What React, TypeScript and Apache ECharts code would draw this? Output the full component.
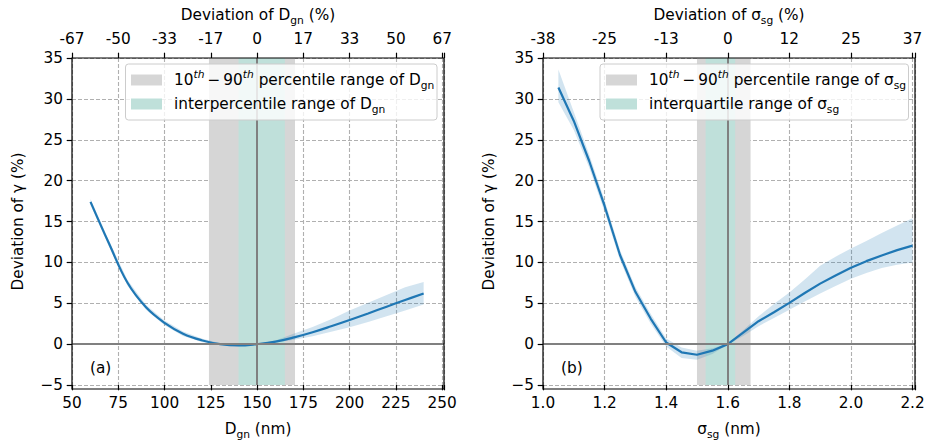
import React, { useEffect, useRef } from 'react';
import * as echarts from 'echarts';

// ---------- data ----------
const dgn = [60, 70, 80, 90, 100, 110, 120, 130, 140, 150, 160, 170, 180, 190, 200, 210, 220, 230, 240];
const dgnMean = [17.4, 12.3, 7.5, 4.5, 2.6, 1.28, 0.48, 0.0, -0.17, 0, 0.3, 0.82, 1.45, 2.18, 2.95, 3.75, 4.58, 5.4, 6.2];
const dgnUpper = [17.75, 12.65, 7.85, 4.8, 2.9, 1.55, 0.68, 0.12, -0.08, 0.02, 0.45, 1.3, 2.1, 3.05, 4.1, 5.05, 6.0, 6.95, 7.6];
const dgnLower = [17.05, 11.95, 7.15, 4.2, 2.3, 1.0, 0.26, -0.12, -0.25, -0.02, 0.2, 0.55, 0.95, 1.5, 2.05, 2.7, 3.4, 4.1, 4.85];

const sigma = [1.05, 1.1, 1.15, 1.2, 1.25, 1.3, 1.35, 1.4, 1.45, 1.5, 1.55, 1.6, 1.65, 1.7, 1.75, 1.8, 1.85, 1.9, 1.95, 2.0, 2.05, 2.1, 2.15, 2.2];
const sigmaMean = [31.4, 27.3, 22.4, 16.9, 10.9, 6.4, 3.1, 0.2, -1.0, -1.3, -0.8, 0, 1.4, 2.8, 3.9, 5.05, 6.25, 7.4, 8.4, 9.35, 10.15, 10.85, 11.5, 12.05];
const sigmaUpper = [33.6, 28.4, 23.2, 17.6, 11.5, 7.0, 3.7, 0.7, -0.4, -0.8, -0.5, 0.05, 1.7, 3.4, 4.9, 6.3, 7.9, 9.6, 10.7, 11.7, 12.6, 13.6, 14.5, 15.4];
const sigmaLower = [29.6, 26.2, 21.6, 16.2, 10.3, 5.8, 2.5, -0.3, -1.7, -1.9, -1.2, -0.05, 1.0, 2.2, 3.2, 4.2, 5.2, 6.2, 7.1, 8.0, 8.7, 9.3, 9.7, 10.0];

const dgnTicks = [50, 75, 100, 125, 150, 175, 200, 225, 250];
const dgnBottomLabels = ['50', '75', '100', '125', '150', '175', '200', '225', '250'];
const dgnTopLabels = ['-67', '-50', '-33', '-17', '0', '17', '33', '50', '67'];
const sigmaTicks = [1.0, 1.2, 1.4, 1.6, 1.8, 2.0, 2.2];
const sigmaBottomLabels = ['1.0', '1.2', '1.4', '1.6', '1.8', '2.0', '2.2'];
const sigmaTopLabels = ['-38', '-25', '-13', '0', '12', '25', '37'];

const dgnRef = 150;
const dgnRange1090 = [124, 170.5];
const dgnRangeInter = [140, 165];
const sigmaRef = 1.6;
const sigmaRange1090 = [1.5, 1.674];
const sigmaRangeInter = [1.528, 1.624];

// ---------- style ----------
const FONT = 'DejaVu Sans';
const FS = 15.3;
const FSS = 10.7;
const BLUE = '#1f77b4';
const GRAY = '#d6d6d6';
const TEAL = '#bfe0da';
const L = { left: 72, top: 58, width: 372, height: 331 };
const R = { left: 543, top: 58, width: 372, height: 331 };

const rich = {
  n: { fontSize: FS, fontFamily: FONT, color: '#000', lineHeight: 22 },
  s: { fontSize: FSS, fontFamily: FONT, color: '#000', lineHeight: 11, verticalAlign: 'bottom' },
  p: { fontSize: FSS, fontFamily: FONT, color: '#000', fontStyle: 'italic', lineHeight: 11, verticalAlign: 'top' },
};

const pick = (ticks: number[], labels: string[]) => (v: number) => {
  for (let i = 0; i < ticks.length; i++) if (Math.abs(ticks[i] - v) < 1e-6) return labels[i];
  return '';
};

const tick = { show: true, inside: false, length: 5.3, lineStyle: { color: '#000', width: 1.2 } };
const grid = { show: true, lineStyle: { color: '#b0b0b0', width: 1.1, type: [4, 2] } };

const bottomAxis = (gi: number, min: number, max: number, interval: number, fmt: any, name: string) => ({
  type: 'value', gridIndex: gi, position: 'bottom', min, max, interval,
  axisLine: { show: false, onZero: false },
  axisTick: tick,
  axisLabel: { color: '#000', fontSize: FS, fontFamily: FONT, margin: 10, formatter: fmt },
  splitLine: grid,
  name, nameLocation: 'middle', nameGap: 33,
  nameTextStyle: { rich, fontSize: FS, fontFamily: FONT, color: '#000' },
});

const topAxis = (gi: number, min: number, max: number, interval: number, fmt: any, name: string) => ({
  type: 'value', gridIndex: gi, position: 'top', min, max, interval,
  axisLine: { show: false, onZero: false },
  axisTick: tick,
  axisLabel: { color: '#000', fontSize: FS, fontFamily: FONT, margin: 12, formatter: fmt },
  splitLine: { show: false },
  name, nameLocation: 'middle', nameGap: 30,
  nameTextStyle: { rich, fontSize: FS, fontFamily: FONT, color: '#000' },
});

const yAxis = (gi: number) => ({
  type: 'value', gridIndex: gi, min: -5, max: 35, interval: 5,
  axisLine: { show: false, onZero: false },
  axisTick: tick,
  axisLabel: { color: '#000', fontSize: FS, fontFamily: FONT, margin: 9, formatter: (v: number) => (v < 0 ? '\u2212' + Math.abs(v) : String(v)) },
  splitLine: grid,
  name: '{n|Deviation of γ (%)}', nameLocation: 'middle', nameGap: 43,
  nameTextStyle: { rich, fontSize: FS, fontFamily: FONT, color: '#000' },
});

const panelSeries = (gi: number, xs: number[], mean: number[], up: number[], lo: number[], ref: number, r1: number[], r2: number[], smooth: number | boolean) => {
  const xIdx = gi * 2;
  return [
    {
      type: 'line', xAxisIndex: xIdx, yAxisIndex: gi, data: [], z: 1, silent: true,
      markArea: {
        silent: true,
        label: { show: false },
        data: [
          [{ xAxis: r1[0], itemStyle: { color: GRAY, opacity: 1 } }, { xAxis: r1[1] }],
          [{ xAxis: r2[0], itemStyle: { color: TEAL, opacity: 1 } }, { xAxis: r2[1] }],
        ],
      },
    },
    {
      type: 'custom', xAxisIndex: xIdx, yAxisIndex: gi, z: 2, silent: true,
      data: [[xs[0], mean[0]]],
      renderItem: (_p: any, api: any) => {
        const pts: number[][] = [];
        for (let i = 0; i < xs.length; i++) pts.push(api.coord([xs[i], up[i]]));
        for (let i = xs.length - 1; i >= 0; i--) pts.push(api.coord([xs[i], lo[i]]));
        return { type: 'polygon', shape: { points: pts }, style: { fill: 'rgba(31,119,180,0.2)', stroke: 'none' } };
      },
    },
    {
      type: 'line', xAxisIndex: xIdx, yAxisIndex: gi, data: [], z: 3, silent: true,
      markLine: {
        silent: true, symbol: 'none', label: { show: false },
        lineStyle: { color: '#808080', width: 2, type: 'solid' },
        emphasis: { disabled: true },
        data: [{ xAxis: ref }, { yAxis: 0 }],
      },
    },
    {
      type: 'line', xAxisIndex: xIdx, yAxisIndex: gi, z: 4, silent: true,
      showSymbol: false, smooth,
      lineStyle: { color: BLUE, width: 2.2 },
      data: xs.map((x, i) => [x, mean[i]]),
    },
  ];
};

const legend = (box: { x: number; y: number; w: number; h: number }, px: number, tx: number, t1: string, t2: string) => [
  { type: 'rect', z: 100, silent: true, shape: { x: box.x, y: box.y, width: box.w, height: box.h, r: 3 }, style: { fill: 'rgba(255,255,255,0.8)', stroke: '#cccccc', lineWidth: 1 } },
  { type: 'rect', z: 101, silent: true, shape: { x: px, y: box.y + 10.5, width: 31, height: 11 }, style: { fill: GRAY } },
  { type: 'rect', z: 101, silent: true, shape: { x: px, y: box.y + 34.5, width: 31, height: 11 }, style: { fill: TEAL } },
  { type: 'text', z: 101, silent: true, x: tx, y: box.y + 16, style: { text: t1, rich, fill: '#000', font: `${FS}px ${FONT}`, align: 'left', verticalAlign: 'middle' } },
  { type: 'text', z: 101, silent: true, x: tx, y: box.y + 40, style: { text: t2, rich, fill: '#000', font: `${FS}px ${FONT}`, align: 'left', verticalAlign: 'middle' } },
];

const frame = (g: { left: number; top: number; width: number; height: number }) => ({
  type: 'rect', z: 100, silent: true,
  shape: { x: g.left, y: g.top, width: g.width, height: g.height },
  style: { fill: 'none', stroke: '#000', lineWidth: 1.2 },
});

const option = {
  animation: false,
  backgroundColor: '#fff',
  grid: [{ ...L }, { ...R }],
  xAxis: [
    bottomAxis(0, 50, 251, 25, pick(dgnTicks, dgnBottomLabels), '{n|D}{s|gn}{n| (nm)}'),
    topAxis(0, 50, 251, 25, pick(dgnTicks, dgnTopLabels), '{n|Deviation of D}{s|gn}{n| (%)}'),
    bottomAxis(1, 1.0, 2.208, 0.2, pick(sigmaTicks, sigmaBottomLabels), '{n|σ}{s|sg}{n| (nm)}'),
    topAxis(1, 1.0, 2.208, 0.2, pick(sigmaTicks, sigmaTopLabels), '{n|Deviation of σ}{s|sg}{n| (%)}'),
  ],
  yAxis: [yAxis(0), yAxis(1)],
  series: [
    ...panelSeries(0, dgn, dgnMean, dgnUpper, dgnLower, dgnRef, dgnRange1090, dgnRangeInter, 0.4),
    ...panelSeries(1, sigma, sigmaMean, sigmaUpper, sigmaLower, sigmaRef, sigmaRange1090, sigmaRangeInter, false),
  ],
  graphic: [
    frame(L),
    frame(R),
    ...legend({ x: 125.5, y: 64, w: 311.5, h: 56 }, 131, 174,
      '{n|10}{p|th}{n|\u2009\u2212\u200990}{p|th}{n| percentile range of D}{s|gn}',
      '{n|interpercentile range of D}{s|gn}'),
    ...legend({ x: 600, y: 64, w: 308.5, h: 56 }, 606, 649,
      '{n|10}{p|th}{n|\u2009\u2212\u200990}{p|th}{n| percentile range of σ}{s|sg}',
      '{n|interquartile range of σ}{s|sg}'),
    { type: 'text', z: 101, silent: true, x: 90, y: 368, style: { text: '(a)', fill: '#000', font: `${FS}px ${FONT}`, align: 'left', verticalAlign: 'middle' } },
    { type: 'text', z: 101, silent: true, x: 561, y: 368, style: { text: '(b)', fill: '#000', font: `${FS}px ${FONT}`, align: 'left', verticalAlign: 'middle' } },
  ],
};

export default function App() {
  const ref = useRef<HTMLDivElement>(null);
  useEffect(() => {
    const chart = echarts.init(ref.current!, null, { renderer: 'svg' });
    chart.setOption(option as any);
    return () => chart.dispose();
  }, []);
  return <div ref={ref} style={{ position: 'fixed', left: 0, top: 0, width: 928, height: 445 }} />;
}
